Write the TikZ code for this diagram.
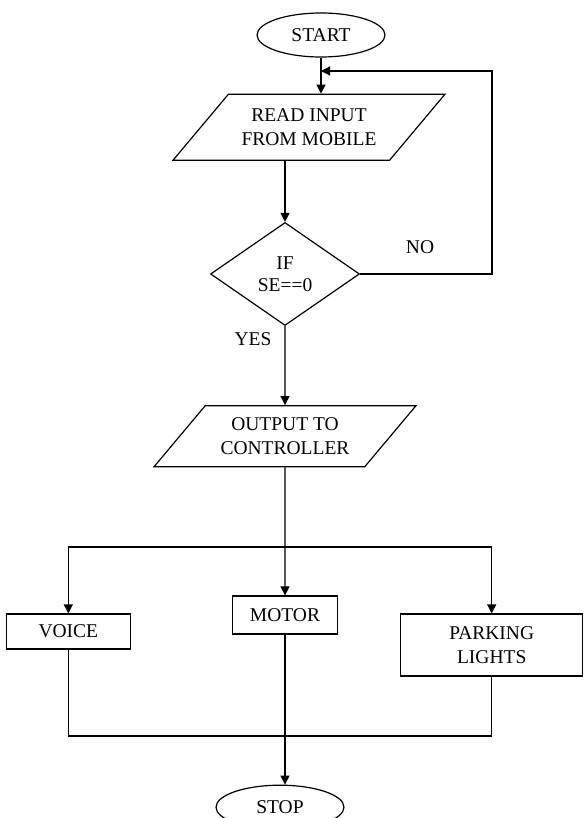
\documentclass[tikz,border=0pt]{standalone}
\usepackage{fontspec}
\setmainfont{Liberation Serif}
\usepackage{tikz}
\usetikzlibrary{shapes.geometric, arrows.meta, positioning}
\tikzset{
  terminal/.style = {ellipse, draw, line width=1.2pt, fill=white, align=center,
                     minimum width=128pt, minimum height=44pt, inner sep=0pt,
                     font=\fontsize{19.5}{24}\selectfont},
  io/.style       = {trapezium, trapezium left angle=50, trapezium right angle=130,
                     trapezium stretches body, draw, line width=1.2pt, fill=white,
                     align=center, inner xsep=2pt, font=\fontsize{19.5}{24}\selectfont},
  decision/.style = {diamond, draw, line width=1.2pt, fill=white, align=center,
                     minimum width=149pt, minimum height=103pt, inner sep=0pt,
                     font=\fontsize{19.5}{22}\selectfont},
  process/.style  = {rectangle, draw, line width=1.2pt, fill=white, align=center,
                     inner sep=2pt, font=\fontsize{19.5}{24}\selectfont},
  flow/.style     = {-{Triangle[length=9pt, width=9pt]}, line width=1.2pt},
  link/.style     = {line width=1.2pt},
  flowlab/.style  = {font=\fontsize{19.5}{24}\selectfont, inner sep=1pt},
}

\begin{document}
\begin{tikzpicture}[x=1pt, y=-1pt]
  \useasboundingbox (0,0) rectangle (583,818);
  \node[terminal] (start) at (321,35) {START};
  \node[io, minimum width=272pt, inner ysep=14.5pt, below=36pt of start, xshift=-12pt] (read) {READ INPUT\\FROM MOBILE};
  \node[decision, below=61pt of read, xshift=-24pt] (dec) {IF\\SE==0};
  \node[io, minimum width=262pt, inner ysep=12pt, below=79pt of dec] (out) {OUTPUT TO\\CONTROLLER};
  \node[process, minimum width=105pt, minimum height=38pt, below=128pt of out] (motor) {MOTOR};
  \node[process, minimum width=124pt, minimum height=35pt, left=101pt of motor, yshift=-16.5pt] (voice) {VOICE};
  \node[process, minimum width=182pt, minimum height=62pt, right=62pt of motor, yshift=-30pt] (park) {PARKING\\LIGHTS};
  \node[terminal, below=150pt of motor, xshift=-5pt] (stop) {STOP};
  \node[flowlab] (no) at (420,247) {NO};
  \node[flowlab] (yes) at (253,339) {YES};

  \coordinate (back) at (492,71);
  \coordinate (split) at (285,547);
  \coordinate (merge) at (285,736);

  \draw[flow] (start.south) -- (start.south |- read.north);
  \draw[flow] (read.south -| dec.north) -- (dec.north);
  \draw[flow] (dec.east) -| (back) -- (start.south |- back);
  \draw[flow] (dec) -- (out);
  \draw[flow] (out) -- (motor);
  \draw[flow] (split) -| (voice);
  \draw[flow] (split) -| (park);
  \draw[link] (voice) |- (merge) -| (park);
  \draw[flow] (motor.south) -- (motor.south |- stop.north);
\end{tikzpicture}
\end{document}
